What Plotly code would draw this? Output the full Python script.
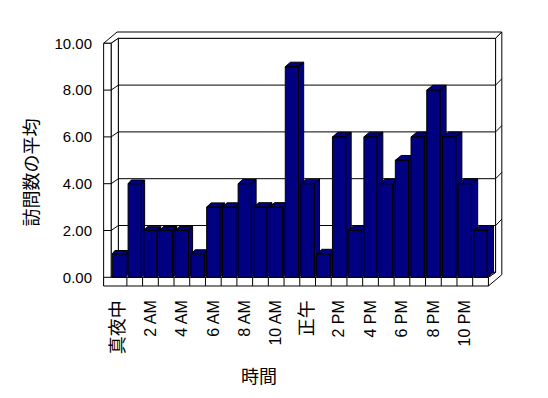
import math
import plotly.graph_objects as go

# ---------------- data ----------------
CATEGORIES = ["真夜中", "1 AM", "2 AM", "3 AM", "4 AM", "5 AM", "6 AM", "7 AM",
              "8 AM", "9 AM", "10 AM", "11 AM", "正午", "1 PM", "2 PM", "3 PM",
              "4 PM", "5 PM", "6 PM", "7 PM", "8 PM", "9 PM", "10 PM", "11 PM"]
VALUES = [1, 4, 2, 2, 2, 1, 3, 3, 4, 3, 3, 9, 4, 1, 6, 2, 6, 4, 5, 6, 8, 6, 4, 2]
Y_TICKS = [0, 2, 4, 6, 8, 10]
X_TICK_POS = list(range(0, len(CATEGORIES), 2))
X_TICK_LABELS = [CATEGORIES[i] for i in X_TICK_POS]
Y_TITLE = "訪問数の平均"
X_TITLE = "時間"

# ---------------- geometry (pixel scale of the front plane) ----------------
SX = 15.72   # px per category
SY = 23.4    # px per value unit
n = len(VALUES)
vmax = max(Y_TICKS)
cL, cR = -0.5, n - 0.5
tw = 7.5 / SX            # left wall thickness
tf = 8.7 / SY            # floor thickness
idx, idy = 7.2 / SX, 5.0 / SY      # inner depth (back wall plane)
odx, ody = 13.4 / SX, 11.3 / SY    # outer depth (back of walls)
BAR_W = 0.845

NAVY = "#000080"
FONT_LAT = "Liberation Sans, Arial, sans-serif"
FONT_CJK = "Noto Sans CJK JP, sans-serif"


def polys(list_of_pts):
    xs, ys = [], []
    for pts in list_of_pts:
        for (x, y) in pts:
            xs.append(x)
            ys.append(y)
        xs.append(pts[0][0])
        ys.append(pts[0][1])
        xs.append(None)
        ys.append(None)
    return xs, ys


def add_poly(fig, pts_list, fill, lw=1):
    xs, ys = polys(pts_list)
    fig.add_trace(go.Scatter(x=xs, y=ys, mode="lines", fill="toself",
                             fillcolor=fill, line=dict(color="black", width=lw),
                             hoverinfo="skip", showlegend=False))


fig = go.Figure()

# back wall inner face
add_poly(fig, [[(cL + idx, idy), (cL + idx, vmax + idy), (cR + idx, vmax + idy), (cR + idx, idy)]], "white")
# top surface (left wall top + back wall top)
add_poly(fig, [[(cL - tw, vmax), (cL, vmax), (cL + idx, vmax + idy), (cR + idx, vmax + idy),
                (cR + odx, vmax + ody), (cL - tw + odx, vmax + ody)]], "white")
# right side (back wall edge + floor side)
add_poly(fig, [[(cR, 0), (cR + idx, idy), (cR + idx, vmax + idy), (cR + odx, vmax + ody),
                (cR + odx, -tf + ody), (cR, -tf)]], "white")
# left wall inner face
add_poly(fig, [[(cL, 0), (cL, vmax), (cL + idx, vmax + idy), (cL + idx, idy)]], "white")
# left wall front face
add_poly(fig, [[(cL - tw, -tf), (cL - tw, vmax), (cL, vmax), (cL, 0)]], "white")
# floor top
add_poly(fig, [[(cL, 0), (cL + idx, idy), (cR + idx, idy), (cR, 0)]], "white")
# floor front face
add_poly(fig, [[(cL - tw, 0), (cR, 0), (cR, -tf), (cL - tw, -tf)]], "white")

# grid lines and floor dividers
gx, gy = [], []
for v in Y_TICKS[1:-1]:
    seg = [(cL - tw, v), (cL, v), (cL + idx, v + idy), (cR + idx, v + idy),
           (cR + odx, v + ody)]
    for (x, y) in seg:
        gx.append(x)
        gy.append(y)
    gx.append(None)
    gy.append(None)
for k in range(n - 1):
    gx += [k + 0.5, k + 0.5, None]
    gy += [0, -tf, None]
fig.add_trace(go.Scatter(x=gx, y=gy, mode="lines", line=dict(color="black", width=1),
                         hoverinfo="skip", showlegend=False))

# bars (front, top and side faces), drawn left to right
for k, v in enumerate(VALUES):
    t = math.sqrt(k / (n - 1))
    ddx = (2.5 + 3.8 * t) / SX
    ddy = (3.4 + 1.6 * t) / SY
    xl, xr = k - BAR_W / 2, k + BAR_W / 2
    side = [(xr, 0), (xr, v), (xr + ddx, v + ddy), (xr + ddx, ddy)]
    top = [(xl, v), (xl + ddx, v + ddy), (xr + ddx, v + ddy), (xr, v)]
    front = [(xl, 0), (xl, v), (xr, v), (xr, 0)]
    xs, ys = polys([side, top, front])
    fig.add_trace(go.Scatter(x=xs, y=ys, mode="lines", fill="toself", fillcolor=NAVY,
                             line=dict(color="black", width=1), showlegend=False,
                             name=CATEGORIES[k], hoverinfo="skip"))

# ---------------- layout ----------------
OFF = 8  # page body margin
W, H = 548 - OFF, 398 - OFF
L, R, T, B = 95 - OFF, 510 - OFF, 25 - OFF, 292 - OFF
x0 = 119 - OFF
y0 = 277.3 - OFF
xrange = [(L - x0) / SX, (R - x0) / SX]
yrange = [(y0 - B) / SY, (y0 - T) / SY]


def fmt_tick(s):
    if any(ord(ch) > 0x3000 for ch in s):
        return f'<span style="font-family:{FONT_CJK};font-size:18px">{s}</span>'
    return s


fig.update_layout(
    width=W, height=H,
    margin=dict(l=L, r=W - R, t=T, b=H - B, pad=0),
    paper_bgcolor="white", plot_bgcolor="white",
    showlegend=False,
    font=dict(family=FONT_LAT, size=15, color="black"),
    xaxis=dict(range=xrange, showgrid=False, zeroline=False, showline=False,
               tickmode="array", tickvals=X_TICK_POS,
               ticktext=[fmt_tick(s) for s in X_TICK_LABELS],
               tickangle=-90, ticks="", tickfont=dict(family=FONT_LAT, size=16, color="black"),
               ticklabelstandoff=4, fixedrange=True),
    yaxis=dict(range=yrange, showgrid=False, zeroline=False, showline=False,
               tickmode="array", tickvals=Y_TICKS,
               ticktext=[f"{v:.2f}" for v in Y_TICKS],
               ticks="", tickfont=dict(family=FONT_LAT, size=15, color="black"),
               ticklabelstandoff=2, fixedrange=True),
    annotations=[
        dict(text=Y_TITLE, xref="paper", yref="paper",
             x=(29.5 - OFF - L) / (R - L), y=(B - (173 - OFF)) / (B - T),
             textangle=-90, showarrow=False, xanchor="center", yanchor="middle",
             font=dict(family=FONT_CJK, size=18, color="black")),
        dict(text=X_TITLE, xref="paper", yref="paper",
             x=(259 - OFF - L) / (R - L), y=(B - (375 - OFF)) / (B - T),
             showarrow=False, xanchor="center", yanchor="middle",
             font=dict(family=FONT_CJK, size=18, color="black")),
    ],
)

fig.write_html("out.html")
